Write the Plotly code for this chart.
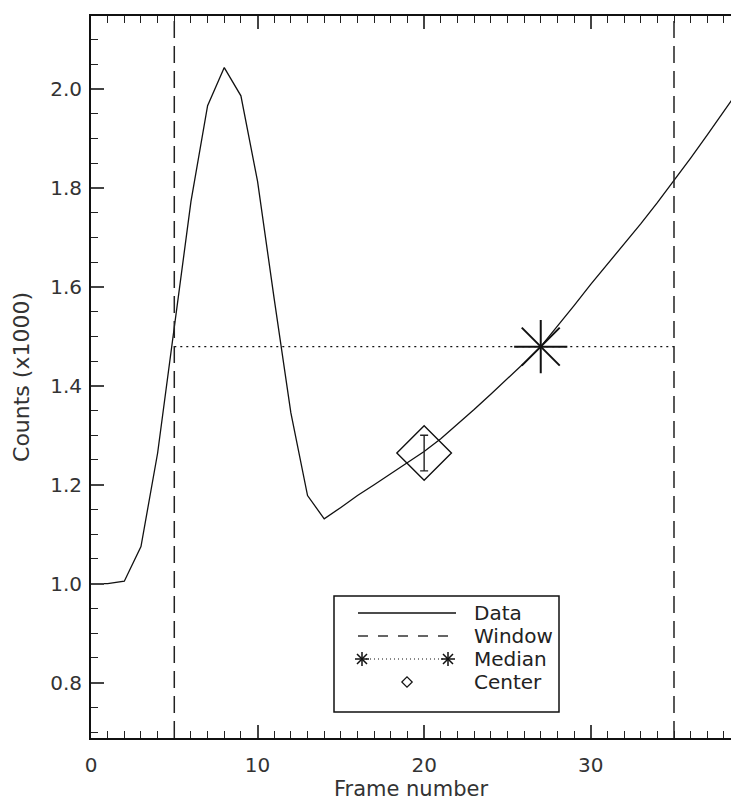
import plotly.graph_objects as go

# ---------------- data ----------------
frames = list(range(0, 40))
counts = [1.000, 1.000, 1.005, 1.075, 1.264, 1.518, 1.772, 1.966, 2.043, 1.986,
          1.813, 1.575, 1.345, 1.178, 1.131, 1.154, 1.178, 1.200, 1.222, 1.245,
          1.267, 1.293, 1.322, 1.352, 1.383, 1.414, 1.446, 1.479, 1.520, 1.562,
          1.605, 1.645, 1.686, 1.727, 1.770, 1.814, 1.860, 1.907, 1.955, 2.003]
window_edges = [5, 35]
median_frame = [27]
median_value = [1.479]
center_frame = [20]
center_value = [1.264]
center_error = [0.036]
x_tick_vals = [0, 10, 20, 30]
y_tick_vals = [0.8, 1.0, 1.2, 1.4, 1.6, 1.8, 2.0]
legend_labels = ["Data", "Window", "Median", "Center"]

# ---------------- layout geometry ----------------
W, H = 731, 804
L, R, T, B = 91, 0, 16, 66
PW, PH = W - L - R, H - T - B
FONT = "DejaVu Sans"
INK = "#111111"


def fx(px):
    return (px - L) / PW


def fy(py):
    return (H - B - py) / PH


fig = go.Figure()

# data curve
fig.add_trace(go.Scatter(x=frames, y=counts, mode="lines",
                         line=dict(color=INK, width=1.3), showlegend=False,
                         hoverinfo="skip"))

# median dotted line across the window
fig.add_trace(go.Scatter(x=window_edges, y=median_value * len(window_edges),
                         mode="lines",
                         line=dict(color=INK, width=1.2, dash="2px,4px"),
                         showlegend=False, hoverinfo="skip"))

# median star
for sym in ["cross-thin-open", "x-thin-open"]:
    fig.add_trace(go.Scatter(x=median_frame, y=median_value, mode="markers",
                             marker=dict(symbol=sym, size=38, color=INK,
                                         line=dict(color=INK, width=2)),
                             showlegend=False, hoverinfo="skip"))

# center diamond with error bar
fig.add_trace(go.Scatter(x=center_frame, y=center_value, mode="markers",
                         marker=dict(symbol="diamond-open", size=42, color=INK,
                                     line=dict(color=INK, width=1.4)),
                         error_y=dict(type="data", array=center_error,
                                      visible=True, color="#222", thickness=1.4,
                                      width=4),
                         showlegend=False, hoverinfo="skip"))

# window dashed vertical lines
for xe in window_edges:
    fig.add_shape(type="line", xref="x", yref="paper", x0=xe, x1=xe, y0=0, y1=1,
                  line=dict(color="#222", width=1.5, dash="17px,8px"))

# ---------------- custom IDL-style legend ----------------
box_l, box_r, box_t, box_b = 334, 559, 596, 712
fig.add_shape(type="rect", xref="paper", yref="paper",
              x0=fx(box_l), x1=fx(box_r), y0=fy(box_b), y1=fy(box_t),
              line=dict(color=INK, width=1.5), fillcolor="rgba(0,0,0,0)",
              layer="above")

row_y = [613, 636, 659, 682]
key_l, key_r, key_mid = 358, 456, 407
text_x = 472

# Data key
fig.add_trace(go.Scatter(x=[fx(key_l), fx(key_r)], y=[fy(row_y[0])] * 2,
                         xaxis="x2", yaxis="y2", mode="lines",
                         line=dict(color=INK, width=1.3), showlegend=False,
                         hoverinfo="skip"))
# Window key
fig.add_trace(go.Scatter(x=[fx(key_l), fx(key_r)], y=[fy(row_y[1])] * 2,
                         xaxis="x2", yaxis="y2", mode="lines",
                         line=dict(color="#333", width=1.3, dash="10px,10px"),
                         showlegend=False, hoverinfo="skip"))
# Median key
fig.add_trace(go.Scatter(x=[fx(key_l + 4), fx(key_r - 8)], y=[fy(row_y[2])] * 2,
                         xaxis="x2", yaxis="y2", mode="lines",
                         line=dict(color=INK, width=1.1, dash="1px,3px"),
                         showlegend=False, hoverinfo="skip"))
for sym in ["cross-thin-open", "x-thin-open"]:
    fig.add_trace(go.Scatter(x=[fx(key_l + 4), fx(key_r - 8)],
                             y=[fy(row_y[2])] * 2,
                             xaxis="x2", yaxis="y2", mode="markers",
                             marker=dict(symbol=sym, size=10, color=INK,
                                         line=dict(color=INK, width=1.5)),
                             showlegend=False, hoverinfo="skip"))
# Center key
fig.add_trace(go.Scatter(x=[fx(key_mid)], y=[fy(row_y[3])],
                         xaxis="x2", yaxis="y2", mode="markers",
                         marker=dict(symbol="diamond-open", size=8, color=INK,
                                     line=dict(color=INK, width=1.2)),
                         showlegend=False, hoverinfo="skip"))

for lab, ry in zip(legend_labels, row_y):
    fig.add_annotation(text=lab, xref="paper", yref="paper", x=fx(text_x),
                       y=fy(ry), xanchor="left", yanchor="middle",
                       showarrow=False, font=dict(family=FONT, size=20,
                                                  color="#222"))

axis_common = dict(
    showline=True, linecolor=INK, linewidth=2,
    ticks="inside", tickcolor="#444", tickwidth=1.5, ticklen=13,
    showgrid=False, zeroline=False,
    tickfont=dict(family=FONT, size=20, color="#333"),
    automargin=False,
)

hidden_axis = dict(range=[0, 1], visible=False, fixedrange=True,
                   showline=False, ticks="", showticklabels=False,
                   showgrid=False, zeroline=False)

fig.update_layout(
    width=W, height=H,
    margin=dict(l=L, r=R, t=T, b=B, pad=0),
    paper_bgcolor="white", plot_bgcolor="white",
    showlegend=False,
    xaxis=dict(
        range=[0, PW / 16.657],
        tickvals=x_tick_vals,
        mirror="allticks",
        minor=dict(dtick=1, tick0=0, ticks="inside", ticklen=7,
                   tickcolor="#222", tickwidth=1.3, showgrid=False),
        ticklabelstandoff=8,
        title=dict(text="Frame number", standoff=2,
                   font=dict(family=FONT, size=21, color="#333")),
        **axis_common,
    ),
    yaxis=dict(
        range=[0.688, 0.688 + PH / 494.75],
        tickvals=y_tick_vals,
        tickformat=".1f",
        mirror=False,
        minor=dict(dtick=0.05, tick0=0, ticks="inside", ticklen=7,
                   tickcolor="#222", tickwidth=1.3, showgrid=False),
        ticklabelstandoff=3,
        title=dict(text="Counts (x1000)", standoff=14,
                   font=dict(family=FONT, size=22, color="#333")),
        **axis_common,
    ),
    xaxis2=dict(overlaying="x", anchor="y2", **hidden_axis),
    yaxis2=dict(overlaying="y", anchor="x2", **hidden_axis),
)

fig.write_html("out.html")
